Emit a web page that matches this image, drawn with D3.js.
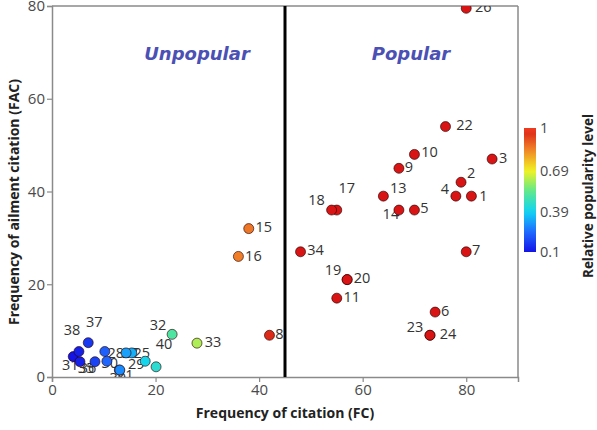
<!DOCTYPE html>
<html><head><meta charset="utf-8">
<script src="https://cdn.jsdelivr.net/npm/d3@7"></script>
<style>body{margin:0;background:#fff}svg{display:block}</style>
</head><body>
<script>
// ---- data ----
const ids = [1,2,3,4,5,6,7,8,9,10,11,13,14,15,16,17,18,19,20,21,22,23,24,25,26,27,28,29,30,31,32,33,34,35,36,37,38,39,40];
const fc  = [81,79,85,78,70,74,80,42,67,70,55,64,67,38,36,55,54,57,57,13,76,73,73,15.4,80,14.3,10.2,18,10.6,4.1,23.2,28,48,5.4,8.3,7,5.2,13.1,20.1];
const fac = [39,42,47,39,36,14,27,9,45,48,17,39,36,32,26,36,36,21,21,1.5,54,9,9,5.2,79.5,5.2,5.5,3.4,3.4,4.4,9.2,7.3,27,3.3,3.3,7.4,5.5,1.5,2.2];
const rpl = [1,1,1,1,1,1,1,0.97,1,1,1,1,1,0.86,0.85,1,1,1,1,0.29,1,1,1,0.34,1,0.32,0.23,0.4,0.24,0.1,0.51,0.62,1,0.12,0.18,0.16,0.12,0.29,0.44];
const xTicks = [0,20,40,60,80];
const yTicks = [0,20,40,60,80];
const legendTicks = [1,0.69,0.39,0.1];
const threshold = 45;

// label offsets (px, label centre relative to point)
const labelOff = {
 1:[12,-1],2:[10,-10],3:[11,-2],4:[-11,-8],5:[10,-3],6:[10,-2],7:[10,-2],8:[10,-2],9:[10,-2],10:[15,-3],
 11:[15,-2],13:[15,-9],14:[-8,3],15:[15,-2],16:[15,-1],17:[10,-23],18:[-15,-11],19:[-14,-10],20:[15,-2],
 21:[6,4],22:[19,-2],23:[-15,-9],24:[18,-2],25:[10,0],26:[17,-2],27:[4,0],28:[11,1],29:[-9,2],30:[3,1],
 31:[-3,8],32:[-14,-10],33:[16,-2],34:[15,-2],35:[6,6],36:[-7,6],37:[6,-21],38:[-7,-22],39:[-2,7],40:[8,-23]
};

const W = 597, H = 430;
const m = {l:52, r:518, t:6, b:377};
const svg = d3.select("body").append("svg").attr("width",W).attr("height",H);
const x = d3.scaleLinear().domain([0,90]).range([m.l,m.r]);
const y = d3.scaleLinear().domain([0,80]).range([m.b,m.t]);
const col = d3.scaleLinear()
  .domain([0.1,0.25,0.39,0.54,0.69,0.85,1])
  .range(["#1414e6","#1f6cff","#10d4f4","#5ee88e","#f2f224","#f07e28","#d81414"]);

const font = "'Open Sans', 'Noto Sans', sans-serif";
const gray = "#8a8a8a";

// frame
svg.append("line").attr("x1",m.l).attr("x2",m.r).attr("y1",m.t).attr("y2",m.t).attr("stroke",gray).attr("stroke-width",1.5);
svg.append("line").attr("x1",m.r).attr("x2",m.r).attr("y1",m.t).attr("y2",m.b).attr("stroke",gray).attr("stroke-width",1.5);

// axes
const xa = svg.append("g").attr("transform",`translate(0,${m.b})`)
  .call(d3.axisBottom(x).tickValues(xTicks).tickSize(5).tickPadding(2));
const ya = svg.append("g").attr("transform",`translate(${m.l},0)`)
  .call(d3.axisLeft(y).tickValues(yTicks).tickSize(5).tickPadding(2));
[xa,ya].forEach(g=>{
  g.select(".domain").attr("stroke",gray).attr("stroke-width",1.5);
  g.selectAll(".tick line").attr("stroke",gray).attr("stroke-width",1.2);
  g.selectAll(".tick text").attr("fill","#4a4a4a").style("font-family",font).style("font-size","15px");
});

// threshold line
svg.append("line").attr("x1",x(threshold)).attr("x2",x(threshold)).attr("y1",m.t).attr("y2",m.b)
  .attr("stroke","#000").attr("stroke-width",3);

// region labels
const regionStyle = s => s.attr("fill","#4b50b4").attr("text-anchor","middle")
  .style("font-family","'DejaVu Sans', Verdana, sans-serif").style("font-size","18px")
  .style("font-weight","bold").style("font-style","italic");
svg.append("text").attr("x",197).attr("y",60).text("Unpopular").call(regionStyle);
svg.append("text").attr("x",411).attr("y",60).text("Popular").call(regionStyle);

// clip
svg.append("clipPath").attr("id","clip").append("rect").attr("x",m.l).attr("y",m.t).attr("width",m.r-m.l).attr("height",m.b-m.t);

const pts = ids.map((id,i)=>({id, fc:fc[i], fac:fac[i], rpl:rpl[i]}));
const lab = svg.append("g").attr("clip-path","url(#clip)");
lab.selectAll("text").data(pts).join("text")
  .attr("x",d=>x(d.fc)+labelOff[d.id][0])
  .attr("y",d=>y(d.fac)+labelOff[d.id][1])
  .attr("text-anchor","middle").attr("dominant-baseline","central")
  .attr("fill","#333").style("font-family",font).style("font-size","14.5px")
  .text(d=>d.id);

svg.append("g").attr("clip-path","url(#clip)").selectAll("circle").data(pts).join("circle")
  .attr("cx",d=>x(d.fc)).attr("cy",d=>y(d.fac)).attr("r",5)
  .attr("fill",d=>col(d.rpl)).attr("stroke","rgba(40,0,0,0.7)").attr("stroke-width",0.9);

// axis titles
svg.append("text").attr("x",285).attr("y",418).attr("text-anchor","middle").text("Frequency of citation (FC)")
  .attr("fill","#222").style("font-family",font).style("font-size","14px").style("font-weight","bold");
svg.append("text").attr("transform","translate(19,202) rotate(-90)").attr("text-anchor","middle").text("Frequency of ailment citation (FAC)")
  .attr("fill","#222").style("font-family",font).style("font-size","14px").style("font-weight","bold");

// legend colour bar
const lg = d3.scaleLinear().domain([0.1,1]).range([252,128]);
const defs = svg.append("defs");
const grad = defs.append("linearGradient").attr("id","grad").attr("x1",0).attr("x2",0).attr("y1",1).attr("y2",0);
d3.range(0,1.0001,0.05).forEach(t=>{
  const v = 0.1 + 0.9*t;
  grad.append("stop").attr("offset",t).attr("stop-color", v > 0.97 ? "#f03a22" : col(v));
});
svg.append("rect").attr("x",524).attr("y",128).attr("width",12).attr("height",124).attr("fill","url(#grad)");
const la = svg.append("g").attr("transform","translate(536,0)").call(d3.axisRight(lg).tickValues(legendTicks).tickSize(0).tickPadding(4).tickFormat(d=>String(d)));
la.select(".domain").remove();
la.selectAll(".tick text").attr("fill","#4a4a4a").style("font-family",font).style("font-size","14.5px");
svg.append("text").attr("transform","translate(588,196) rotate(-90)").attr("text-anchor","middle").attr("dominant-baseline","central")
  .text("Relative popularity level").attr("fill","#222").style("font-family",font).style("font-size","13.5px").style("font-weight","bold");
</script>
</body></html>
